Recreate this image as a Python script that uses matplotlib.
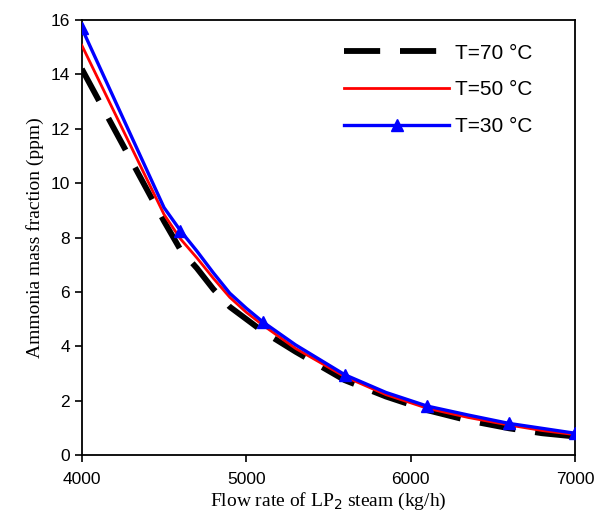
import matplotlib
matplotlib.use("Agg")
import numpy as np
from matplotlib import pyplot as plt

# flow rate of LP2 steam (kg/h)
flow = [4000, 4500, 4600, 4700, 4800, 4900, 5000, 5100, 5300,
        5600, 5850, 6100, 6350, 6600, 6800, 7000]

# ammonia mass fraction (ppm)
t70 = [14.2, 8.6, 7.55, 6.87, 6.1, 5.45, 5.0, 4.55, 3.8,
       2.75, 2.15, 1.65, 1.27, 0.98, 0.8, 0.68]
t50 = [15.07, 8.85, 7.95, 7.25, 6.5, 5.8, 5.25, 4.78, 3.92,
       2.88, 2.22, 1.72, 1.38, 1.1, 0.9, 0.75]
t30 = [15.7, 9.1, 8.25, 7.5, 6.7, 5.95, 5.4, 4.9, 4.05,
       2.95, 2.3, 1.8, 1.47, 1.16, 0.98, 0.8]
marker_idx = [0, 2, 7, 9, 11, 13, 15]

fig = plt.figure(figsize=(6.06, 5.2), dpi=100)
ax = fig.add_axes([0.135, 0.125, 0.814, 0.8365])

ax.plot(flow, t70, color='black', lw=4.2, dashes=(6.2, 3.4), label='T=70 °C', zorder=2)
ax.plot(flow, t50, color='red', lw=2.0, label='T=50 °C', zorder=3)
ax.plot(flow, t30, color='blue', lw=2.4, marker='^', ms=8,
        markevery=marker_idx, label='T=30 °C', zorder=4)

ax.set_xlim(4000, 7000)
ax.set_ylim(0, 16)
ax.set_xticks([4000, 5000, 6000, 7000])
ax.set_yticks(np.arange(0, 17, 2))
ax.tick_params(direction='out', length=5, width=1.2, labelsize=12.5)
ax.tick_params(axis='x', pad=7)
for lab in ax.get_xticklabels() + ax.get_yticklabels():
    lab.set_family('Liberation Sans')
for s in ax.spines.values():
    s.set_linewidth(1.3)

ax.set_xlabel('Flow rate of LP$_2$ steam (kg/h)', family='Liberation Serif',
              fontsize=14, labelpad=3)
ax.set_ylabel('Ammonia mass fraction (ppm)', family='Liberation Serif',
              fontsize=14, labelpad=5)

leg = ax.legend(loc='upper right', bbox_to_anchor=(0.93, 0.965), frameon=False,
                handlelength=5.0, prop={'family': 'Liberation Sans', 'size': 15},
                borderaxespad=0, labelspacing=0.85, handletextpad=0.3)

fig.savefig('out.png', dpi=100)
